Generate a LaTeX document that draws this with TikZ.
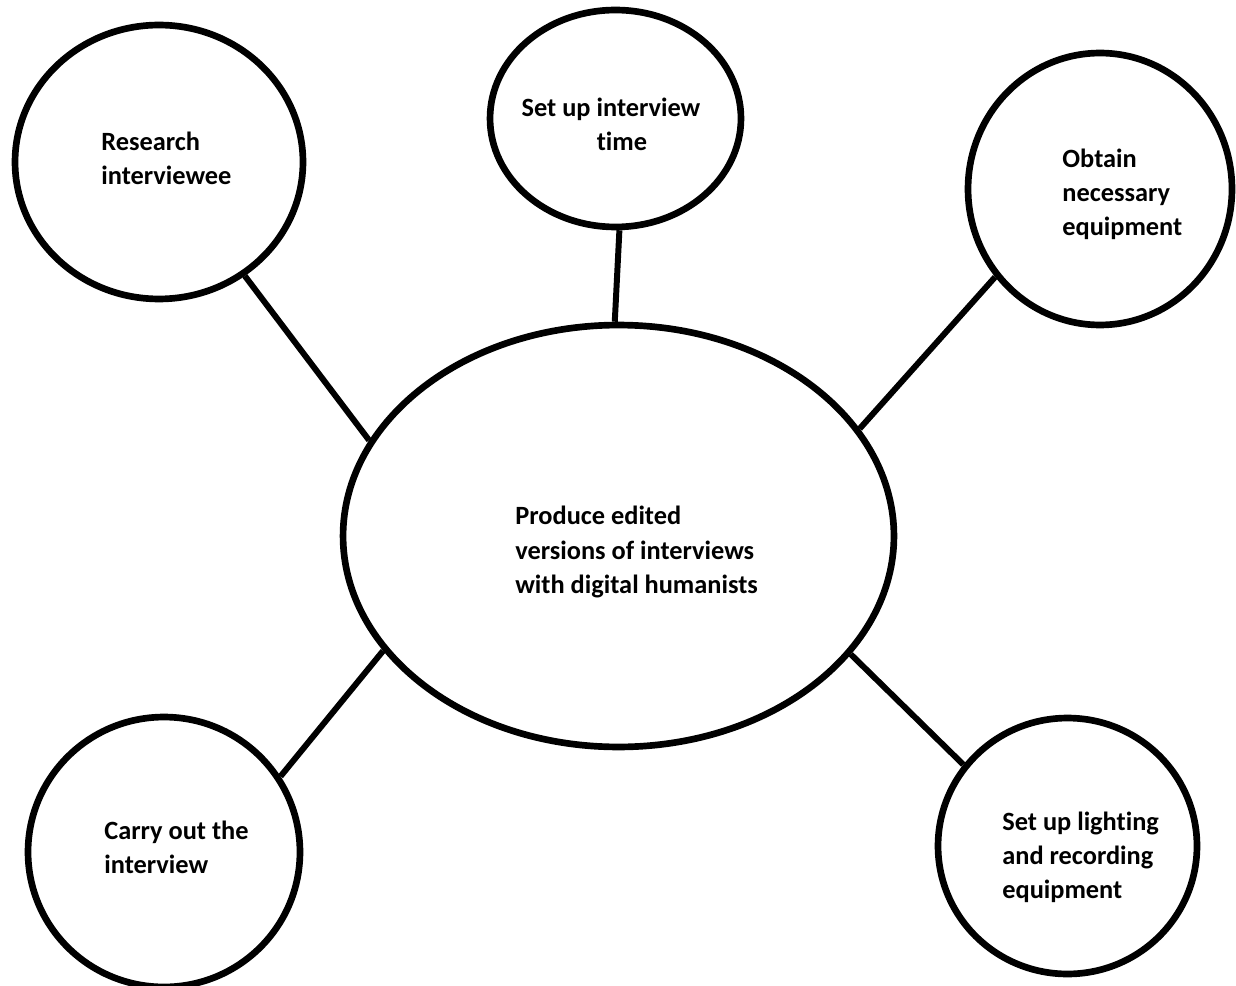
\documentclass[tikz,border=0pt]{standalone}
\usepackage{fontspec}
\setmainfont[Ligatures=CommonOff]{Carlito}
\usetikzlibrary{shapes.geometric}

\tikzset{
  bubble/.style={draw, ellipse, line width=3.8pt, inner sep=0pt},
  txt/.style={inner sep=0pt, anchor=west, align=left,
    font=\fontsize{15pt}{19.4pt}\selectfont\bfseries},
  link/.style={line width=3.4pt}
}

\begin{document}
\begin{tikzpicture}[x=0.02cm, y=-0.02cm]
    \useasboundingbox (0,0) rectangle (1236,986);

    % bubbles
    \node[bubble, minimum width=11.02cm, minimum height=8.44cm] (main) at (618.5,536) {};
    \node[bubble, minimum width=5.76cm, minimum height=5.48cm] (research) at (159,162) {};
    \node[bubble, minimum width=5.02cm, minimum height=4.34cm] (time) at (615.5,118.5) {};
    \node[bubble, minimum width=5.28cm, minimum height=5.44cm] (obtain) at (1100,189) {};
    \node[bubble, minimum width=5.44cm, minimum height=5.40cm] (carry) at (164,852) {};
    \node[bubble, minimum width=5.18cm, minimum height=5.12cm] (lighting) at (1067.5,846) {};

    % texts
    \node[txt] (main-t) at (515,552) {Produce edited\\versions of interviews\\with digital humanists};
    \node[txt] (research-t) at (101,158) {Research\\interviewee};
    \node[txt, align=center, anchor=center] (time-t) at (611,124) {Set up interview\\\hspace{0.44cm}time};
    \node[txt] (obtain-t) at (1062,194) {Obtain\\necessary\\equipment};
    \node[txt] (carry-t) at (104,847) {Carry out the\\interview};
    \node[txt] (lighting-t) at (1002,857) {Set up lighting\\and recording\\equipment};

    % spokes
    \draw[link] (research.-53) -- (main.159);
    \draw[link] (time.-88) -- (main.91);
    \draw[link] (obtain.-140.5) -- (main.24);
    \draw[link] (carry.33) -- (main.-154);
    \draw[link] (lighting.142.3) -- (main.-27);
\end{tikzpicture}
\end{document}
